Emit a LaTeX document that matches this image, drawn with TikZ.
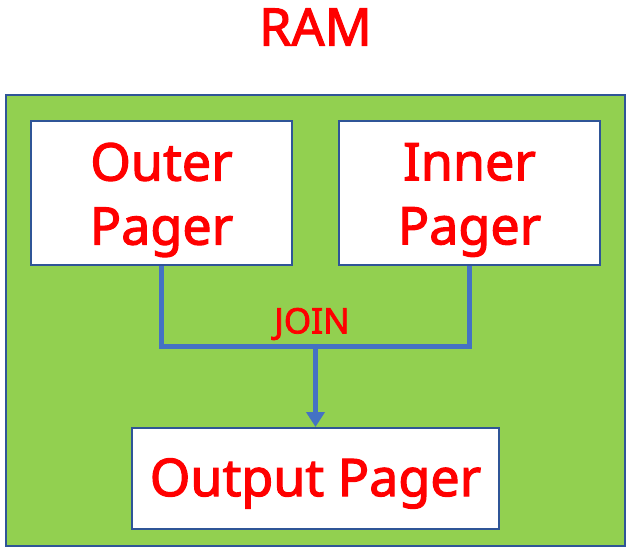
\documentclass[tikz,border=0pt]{standalone}
\usepackage{fontspec}
\setmainfont{Noto Sans}
\newfontfamily\heavy{Noto Sans}[FakeBold=2.2]
\usetikzlibrary{arrows.meta}
\definecolor{ramgreen}{HTML}{92D050}
\definecolor{boxblue}{HTML}{2F5597}
\definecolor{linkblue}{HTML}{4472C4}
\definecolor{txtred}{HTML}{FF0000}
\tikzset{
  pagerbox/.style={draw=boxblue, line width=2pt, fill=white, inner sep=0pt},
  pagertext/.style={text=txtred, inner sep=0pt, align=center,
    font=\heavy\fontsize{52}{64}\selectfont},
  link/.style={draw=linkblue, line width=5pt},
}
\begin{document}
\begin{tikzpicture}[x=1pt,y=-1pt]
\useasboundingbox (0,0) rectangle (631,549);
\node[draw=boxblue, line width=2pt, fill=ramgreen, minimum width=619pt, minimum height=451pt, inner sep=0pt] (ram) at (315.5,320.5) {};
\node[pagertext] (title) at (315.5,27) {RAM};
\node[pagerbox, minimum width=261pt, minimum height=144pt] (outer) at (161.5,193) {};
\node[pagerbox, minimum width=261pt, minimum height=144pt] (inner) at (469.5,193) {};
\node[pagerbox, minimum width=367pt, minimum height=101pt] (output) at (315.5,478.5) {};
\node[pagertext] (outert) at ([yshift=-7pt]outer.center) {Outer\\Pager};
\node[pagertext] (innert) at ([yshift=-7pt]inner.center) {Inner\\Pager};
\node[pagertext] (outputt) at ([yshift=-5pt]output.center) {Output Pager};
\coordinate (j) at (315.5,346);
\draw[link] (outer.south) |- (j) -| (inner.south);
\draw[link, -{Triangle[width=18pt,length=15pt]}] (j) -- (output.north);
\node[text=txtred, font=\heavy\fontsize{35}{40}\selectfont, inner sep=0pt] (join) at (312,324) {JOIN};
\end{tikzpicture}
\end{document}
